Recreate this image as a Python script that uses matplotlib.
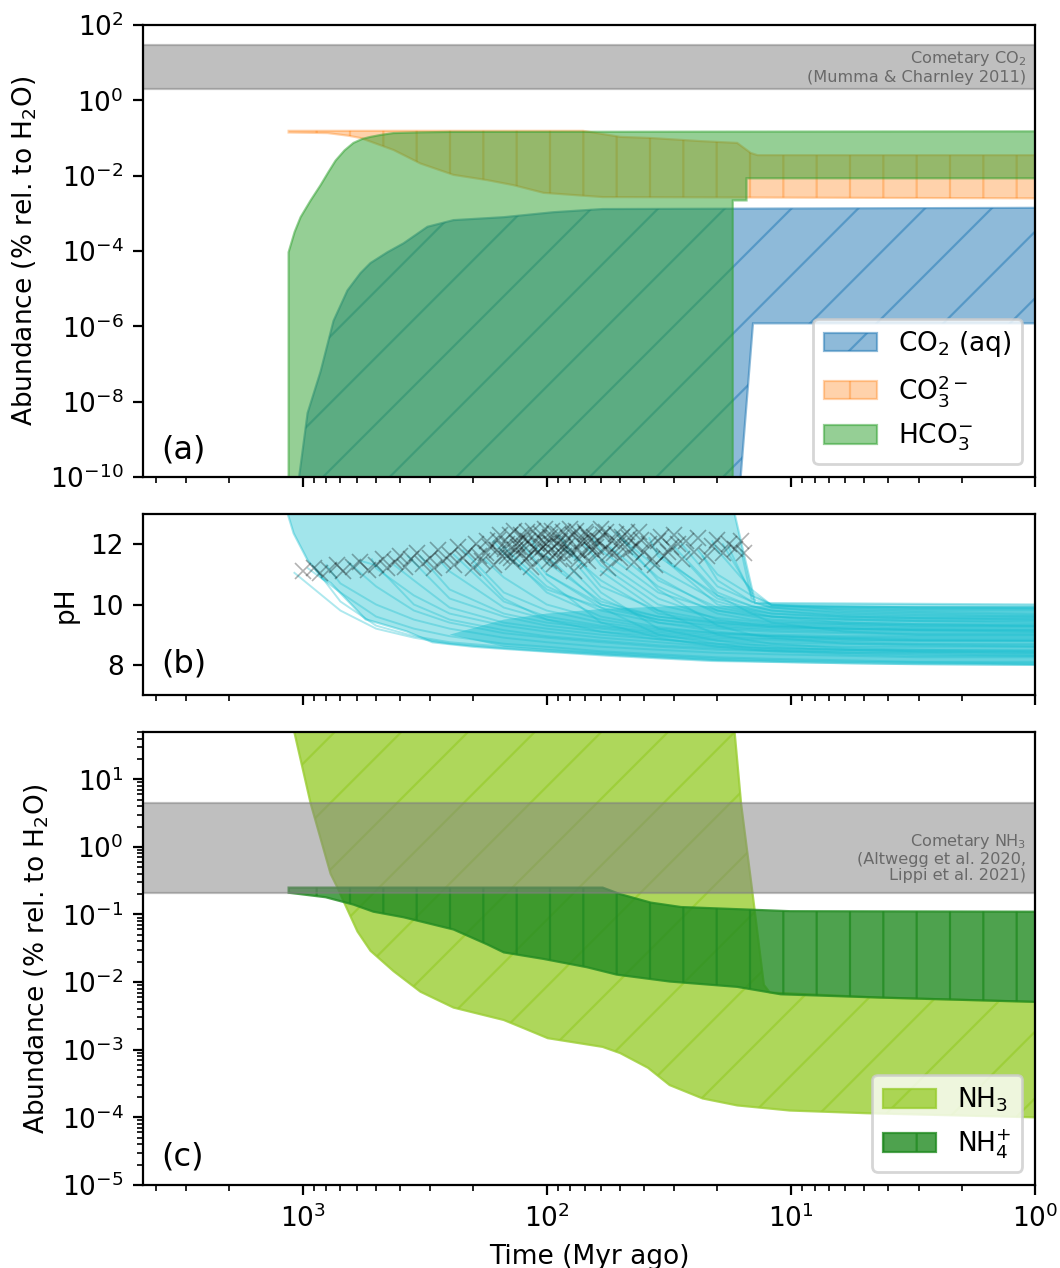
import numpy as np
import matplotlib
matplotlib.use("Agg")
import matplotlib.pyplot as plt
from matplotlib.ticker import NullLocator

plt.rcParams["font.size"] = 9.5
plt.rcParams["hatch.linewidth"] = 0.8

# time axis is Myr ago; abundances in % relative to H2O

# (a) carbonate species: upper and lower edges of each band
co2_up_t = [1048, 954, 844, 747, 655, 579, 527, 449, 386, 308, 241, 150, 94, 59, 1]
co2_up = [5e-11, 5e-9, 6.3e-8, 1.4e-6, 9e-6, 2.6e-5, 4.8e-5, 9.3e-5, 1.6e-4, 4.4e-4, 6.6e-4,
          7.9e-4, 1.07e-3, 1.3e-3, 1.4e-3]
co2_lo_t = [1048, 16.2, 14.3, 1]
co2_lo = [5e-11, 5e-11, 1.2e-6, 1.2e-6]

co3_up_t = [1141, 71, 50, 37.5, 23.7, 16.6, 14.6, 13.7, 1]
co3_up = [0.155, 0.155, 0.107, 0.10, 0.083, 0.074, 0.04, 0.035, 0.035]
co3_lo_t = [1141, 790, 650, 579, 424, 329, 241, 175, 137, 103, 59, 1]
co3_lo = [0.14, 0.135, 0.115, 0.1, 0.048, 0.021, 0.0105, 7.6e-3, 5.6e-3, 3.5e-3, 2.7e-3, 2.5e-3]

hco3_up_t = [1141, 1141, 1078, 1019, 927, 844, 783, 733, 673, 619, 568, 527, 480, 424, 329, 248, 1]
hco3_up = [5e-11, 9.3e-5, 3.2e-4, 7.9e-4, 2.2e-3, 5.6e-3, 0.0126, 0.025, 0.047, 0.074, 0.095,
           0.107, 0.12, 0.135, 0.141, 0.145, 0.15]
hco3_lo_t = [1141, 17.3, 17.3, 15.2, 15.2, 1]
hco3_lo = [5e-11, 5e-11, 2.2e-3, 2.2e-3, 8.5e-3, 8.5e-3]

comet_co2 = (2, 30)
comet_nh3 = (0.21, 4.4)

# (b) pH envelope, dense core of runs, individual runs
env_up_t = [1150, 17.0, 14.0, 1]
env_up = [13.0, 13.0, 10.05, 10.0]
env_lo_t = [1150, 1088, 954, 827, 768, 552, 375, 294, 200, 144, 55.3, 21.1, 3.6, 1]
env_lo = [13.0, 12.36, 11.47, 10.85, 10.72, 9.51, 9.11, 8.75, 8.6, 8.52, 8.30, 8.13, 8.03, 8.0]

core_up_t = [250, 150, 100, 60, 30, 12, 1]
core_up = [9.0, 9.5, 9.7, 9.85, 9.95, 9.95, 9.95]
core_lo_t = [250, 150, 60, 20, 1]
core_lo = [9.0, 8.6, 8.35, 8.15, 8.0]

grid_t = [700, 500, 350, 250, 150, 100, 60, 35, 20, 14.5, 12, 6, 3, 1]
run_t0 = [1080, 950, 800, 650, 520, 420, 330, 270, 220, 180, 200, 150, 130, 115, 110, 100,
          90, 80, 75, 70, 60, 52, 45, 42, 38, 32, 28, 26, 24, 21, 18, 16,
          880, 580, 370, 240, 165, 125, 85, 65, 55, 48, 35.5, 30, 23, 19, 100, 60]
run_ph0 = [11.05, 11.2, 11.3, 11.4, 11.5, 11.3, 11.6, 11.4, 11.8, 11.5, 11.3, 11.9, 11.3, 12.1, 11.2, 11.6,
           12.3, 11.2, 11.3, 12.0, 11.5, 12.4, 11.7, 11.2, 12.2, 11.4, 12.0, 11.3, 11.8, 12.1, 11.9, 11.8,
           11.15, 11.45, 11.6, 11.65, 12.1, 11.95, 11.85, 12.2, 11.9, 12.1, 11.8, 11.9, 11.6, 12.0, 11.0, 11.1]
run_ph = [
    [9.8, 9.2, 8.9, 8.7, 8.55, 8.45, 8.35, 8.25, 8.15, 8.12, 8.1, 8.05, 8.02, 8.0],
    [10.4, 9.6, 9.2, 8.95, 8.7, 8.6, 8.45, 8.35, 8.25, 8.22, 8.2, 8.15, 8.1, 8.1],
    [10.7, 10.0, 9.5, 9.2, 8.9, 8.75, 8.6, 8.5, 8.4, 8.37, 8.35, 8.3, 8.25, 8.25],
    [10.6, 9.8, 9.4, 9.05, 8.9, 8.75, 8.6, 8.5, 8.47, 8.45, 8.4, 8.4, 8.35],
    [11.2, 10.3, 9.7, 9.3, 9.1, 8.9, 8.75, 8.6, 8.57, 8.55, 8.5, 8.5, 8.5],
    [10.8, 9.9, 9.4, 9.2, 9.0, 8.85, 8.7, 8.67, 8.65, 8.6, 8.6, 8.6],
    [10.5, 9.7, 9.4, 9.2, 9.0, 8.85, 8.82, 8.8, 8.75, 8.7, 8.7],
    [11.1, 9.9, 9.5, 9.25, 9.05, 8.9, 8.87, 8.85, 8.8, 8.8, 8.8],
    [10.4, 9.8, 9.4, 9.15, 9.0, 8.97, 8.95, 8.9, 8.9, 8.9],
    [10.9, 10.0, 9.5, 9.2, 9.05, 9.02, 9.0, 8.95, 8.95, 8.95],
    [10.2, 9.5, 9.1, 8.85, 8.65, 8.6, 8.55, 8.5, 8.45, 8.4],
    [10.6, 9.8, 9.4, 9.2, 9.13, 9.1, 9.05, 9.0, 9.0],
    [10.4, 9.6, 9.25, 9.05, 8.98, 8.95, 8.9, 8.85, 8.85],
    [11.4, 10.1, 9.6, 9.35, 9.28, 9.25, 9.2, 9.15, 9.15],
    [10.8, 9.4, 8.9, 8.6, 8.5, 8.45, 8.35, 8.3, 8.3],
    [10.0, 9.5, 9.25, 9.18, 9.15, 9.1, 9.05, 9.05],
    [10.6, 9.8, 9.45, 9.38, 9.35, 9.3, 9.25, 9.25],
    [10.2, 9.4, 9.1, 9.0, 8.95, 8.85, 8.8, 8.8],
    [10.4, 9.2, 8.8, 8.67, 8.6, 8.5, 8.45, 8.45],
    [11.3, 10.0, 9.55, 9.45, 9.4, 9.35, 9.3, 9.3],
    [10.2, 9.5, 9.35, 9.3, 9.2, 9.15, 9.1],
    [10.8, 9.9, 9.7, 9.6, 9.5, 9.45, 9.45],
    [10.9, 9.8, 9.6, 9.5, 9.4, 9.35, 9.35],
    [10.5, 9.3, 9.0, 8.9, 8.7, 8.65, 8.6],
    [11.6, 10.3, 9.95, 9.8, 9.6, 9.55, 9.55],
    [10.0, 9.75, 9.6, 9.4, 9.35, 9.3],
    [10.6, 10.1, 9.9, 9.7, 9.65, 9.6],
    [10.3, 9.7, 9.4, 9.1, 9.0, 9.0],
    [11.0, 10.3, 10.0, 9.8, 9.75, 9.7],
    [11.8, 10.5, 9.98, 9.9, 9.85, 9.85],
    [10.3, 9.98, 9.95, 9.9, 9.9],
    [10.2, 9.95, 9.85, 9.8, 9.8],
    [10.1, 9.3, 8.95, 8.75, 8.6, 8.5, 8.4, 8.3, 8.2, 8.17, 8.15, 8.1, 8.08, 8.05],
    [11.3, 10.0, 9.5, 9.15, 8.95, 8.8, 8.65, 8.55, 8.5, 8.48, 8.45, 8.42, 8.4],
    [11.4, 10.2, 9.6, 9.3, 9.1, 8.95, 8.8, 8.75, 8.72, 8.7, 8.68, 8.65],
    [10.1, 9.6, 9.3, 9.1, 8.95, 8.9, 8.88, 8.85, 8.82, 8.8],
    [11.7, 10.5, 9.9, 9.5, 9.3, 9.22, 9.2, 9.15, 9.12, 9.1],
    [11.0, 10.0, 9.6, 9.4, 9.33, 9.3, 9.25, 9.2, 9.2],
    [10.8, 9.7, 9.4, 9.3, 9.25, 9.2, 9.18, 9.15],
    [11.8, 10.4, 9.8, 9.65, 9.6, 9.5, 9.45, 9.4],
    [10.6, 9.7, 9.5, 9.45, 9.35, 9.3, 9.28],
    [11.2, 10.1, 9.8, 9.7, 9.6, 9.55, 9.5],
    [11.7, 10.2, 9.85, 9.7, 9.55, 9.5, 9.5],
    [10.4, 9.95, 9.8, 9.65, 9.6, 9.6],
    [10.8, 10.1, 9.9, 9.75, 9.7, 9.65],
    [10.4, 9.98, 9.92, 9.9, 9.88],
    [9.9, 9.0, 8.7, 8.55, 8.5, 8.4, 8.35, 8.3],
    [9.8, 9.0, 8.8, 8.7, 8.55, 8.5, 8.45],
]

mark_t = [1000, 900, 850, 780, 720, 680, 620, 580, 540, 500, 470, 450, 420, 400, 380, 360,
          340, 320, 300, 290, 280, 265, 250, 240, 230, 220, 210, 200, 195, 185, 178, 170,
          165, 158, 152, 148, 142, 138, 133, 128, 124, 120, 116, 112, 108, 105, 102, 99,
          96, 93, 90, 87, 85, 82, 80, 77, 75, 73, 70, 68, 66, 64, 62, 60,
          58, 56, 54, 52, 50, 48, 46, 44, 42, 40, 38, 36, 34, 33, 31, 30,
          28, 27, 25, 24, 22, 21, 20, 19, 18, 17, 16, 15.5,
          145, 135, 125, 118, 110, 104, 97, 92, 88, 84, 78, 72, 67, 63, 59, 55, 51, 47, 43,
          190, 175, 160, 155, 146, 140, 136, 131, 127, 122, 119, 114, 109, 106, 101, 98,
          95, 91, 89, 86, 83, 79, 76, 74, 71, 69, 65, 61, 57, 53, 49, 45, 41, 37, 35, 32, 29]
mark_ph = [11.1, 11.2, 11.05, 11.15, 11.3, 11.1, 11.25, 11.4, 11.15, 11.3, 11.5, 11.2, 11.4, 11.6, 11.25, 11.5,
           11.7, 11.35, 11.55, 11.2, 11.8, 11.45, 11.65, 11.3, 11.9, 11.55, 11.75, 11.2, 12.0, 11.45, 11.7, 11.9,
           11.3, 12.15, 11.6, 11.85, 12.3, 11.4, 12.05, 11.7, 11.95, 12.4, 11.25, 11.85, 12.2, 11.55, 12.5, 11.75,
           12.05, 11.35, 12.35, 11.9, 11.6, 12.2, 12.5, 11.1, 11.8, 12.05, 12.4, 11.45, 11.95, 12.25, 11.65, 12.5,
           11.85, 11.2, 12.1, 12.35, 11.55, 11.9, 12.2, 11.4, 12.4, 11.75, 12.0, 11.3, 12.25, 11.6, 11.9, 12.3,
           11.5, 12.1, 11.75, 12.2, 11.6, 11.95, 12.15, 11.7, 12.0, 11.85, 12.1, 11.7,
           11.6, 11.8, 12.2, 11.6, 12.0, 11.9, 12.25, 11.7, 12.1, 11.85, 12.3, 11.7, 12.2, 11.9, 12.3, 11.75, 12.0, 12.4, 11.95,
           11.6, 12.1, 11.8, 12.3, 12.0, 11.55, 12.45, 11.9, 12.3, 11.5, 12.1, 12.45, 11.75, 12.35, 12.0, 11.45,
           12.45, 12.0, 11.5, 12.4, 11.95, 11.7, 12.45, 11.5, 12.1, 12.35, 11.8, 12.1, 12.4, 11.7, 12.25, 11.85,
           12.15, 11.5, 12.1, 11.75, 12.0]

# (c) ammonia species
nh3_up_t = [1130, 17.3, 16.0, 14.4, 12.9, 12.2, 4.3, 1]
nh3_up = [100, 100, 4.4, 0.224, 9.1e-3, 7e-3, 5.9e-3, 5.1e-3]
nh3_lo_t = [1130, 927, 768, 720, 680, 596, 527, 424, 329, 241, 150, 125, 99, 59, 50, 38.5, 31.4,
            23.0, 16.6, 10.1, 4.9, 1]
nh3_lo = [100, 4.4, 0.40, 0.25, 0.158, 0.056, 0.029, 0.0145, 7.2e-3, 4.2e-3, 2.75e-3, 2.1e-3, 1.48e-3,
          1.1e-3, 8.9e-4, 5.4e-4, 3.0e-4, 1.9e-4, 1.5e-4, 1.26e-4, 1.15e-4, 1.0e-4]

nh4_up_t = [1141, 59, 50, 37.5, 28.2, 16.6, 10.1, 1]
nh4_up = [0.25, 0.25, 0.2, 0.15, 0.129, 0.12, 0.112, 0.11]
nh4_lo_t = [1141, 805, 619, 513, 386, 241, 175, 150, 103, 68.5, 51.7, 31.4, 16.6, 11.0, 4.3, 1]
nh4_lo = [0.21, 0.18, 0.14, 0.11, 0.091, 0.06, 0.036, 0.0275, 0.022, 0.0166, 0.0129, 0.0102,
          8.5e-3, 6.6e-3, 5.9e-3, 5.1e-3]


def band(ax, t_up, y_up, t_lo, y_lo, lw=0.8, **kw):
    # closed polygon: upper edge left->right, lower edge back right->left
    xs = list(t_up) + list(t_lo)[::-1]
    ys = list(y_up) + list(y_lo)[::-1]
    return ax.fill(xs, ys, lw=lw, **kw)[0]


fig = plt.figure(figsize=(5.3, 6.34), dpi=200)
ax1 = fig.add_axes([0.135, 0.6238, 0.8415, 0.3565])
ax2 = fig.add_axes([0.135, 0.4519, 0.8415, 0.1427], sharex=ax1)
ax3 = fig.add_axes([0.135, 0.0655, 0.8415, 0.3572], sharex=ax1)

# ---- (a)
ax1.axhspan(*comet_co2, color="grey", alpha=0.5, lw=0.8)
ax1.text(0.99, 7.7, "Cometary CO$_2$\n(Mumma & Charnley 2011)", transform=ax1.get_yaxis_transform(),
         ha="right", va="center", fontsize=5.8, color="dimgray", multialignment="right",
         linespacing=1.1)
band(ax1, co2_up_t, co2_up, co2_lo_t, co2_lo, color="C0", alpha=0.5, hatch="/", label="CO$_2$ (aq)")
band(ax1, co3_up_t, co3_up, co3_lo_t, co3_lo, color="C1", alpha=0.35, hatch="|", label="CO$_3^{2-}$")
band(ax1, hco3_up_t, hco3_up, hco3_lo_t, hco3_lo, color="C2", alpha=0.5, label="HCO$_3^{-}$")
ax1.set_yscale("log")
ax1.set_ylim(1e-10, 1e2)
ax1.set_yticks([1e-10, 1e-8, 1e-6, 1e-4, 1e-2, 1e0, 1e2])
ax1.yaxis.set_minor_locator(NullLocator())
ax1.set_ylabel("Abundance (% rel. to H$_2$O)")
ax1.legend(loc="lower right")
ax1.text(0.02, 0.06, "(a)", transform=ax1.transAxes, va="center", fontsize=11.5)

# ---- (b)
band(ax2, env_up_t, env_up, env_lo_t, env_lo, color="C9", alpha=0.4)
band(ax2, core_up_t, core_up, core_lo_t, core_lo, lw=0, color="C9", alpha=0.45)
for t0, p0, vals in zip(run_t0, run_ph0, run_ph):
    ts = [t0] + grid_t[len(grid_t) - len(vals):]
    ax2.plot(ts, [p0] + vals, color="C9", alpha=0.35, lw=0.7)
ax2.plot(mark_t, mark_ph, "x", color="k", alpha=0.3, ms=6, mew=0.6)
ax2.set_ylim(7, 13)
ax2.set_yticks([8, 10, 12])
ax2.set_ylabel("pH")
ax2.text(0.02, 0.17, "(b)", transform=ax2.transAxes, va="center", fontsize=11.5)

# ---- (c)
band(ax3, nh3_up_t, nh3_up, nh3_lo_t, nh3_lo, color="yellowgreen", alpha=0.8, hatch="/", label="NH$_3$")
band(ax3, nh4_up_t, nh4_up, nh4_lo_t, nh4_lo, color="forestgreen", alpha=0.8, hatch="|", label="NH$_4^{+}$")
ax3.axhspan(*comet_nh3, color="grey", alpha=0.5, lw=0.8)
ax3.text(0.99, 0.7, "Cometary NH$_3$\n(Altwegg et al. 2020,\nLippi et al. 2021)",
         transform=ax3.get_yaxis_transform(), ha="right", va="center", fontsize=5.8,
         color="dimgray", multialignment="right", linespacing=1.1)
ax3.set_yscale("log")
ax3.set_ylim(1e-5, 50)
ax3.set_ylabel("Abundance (% rel. to H$_2$O)")
ax3.legend(loc="lower right")
ax3.text(0.02, 0.062, "(c)", transform=ax3.transAxes, va="center", fontsize=11.5)

ax1.set_xscale("log")
ax1.set_xlim(4500, 1)
ax3.set_xlabel("Time (Myr ago)")
for ax in (ax1, ax2):
    ax.tick_params(labelbottom=False)

fig.savefig("out.png", dpi=200)
